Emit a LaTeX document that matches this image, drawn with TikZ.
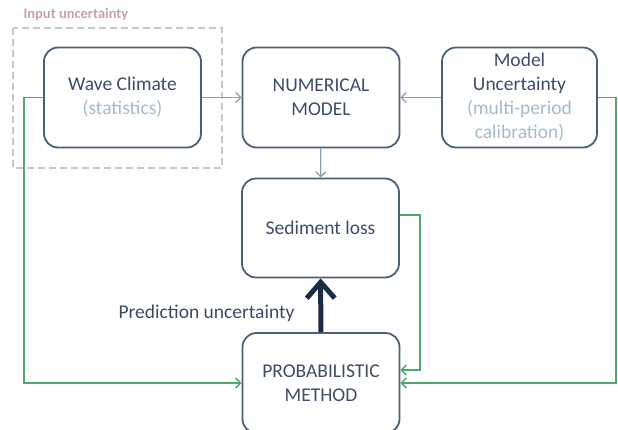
\documentclass[tikz,border=0pt]{standalone}
\usepackage{fontspec}
\setmainfont{Carlito}
\usepackage{tikz}
\usetikzlibrary{arrows.meta,positioning}
\definecolor{boxline}{HTML}{4D5D7A}
\definecolor{boxtext}{HTML}{3E4C68}
\definecolor{subtext}{HTML}{A3BCC8}
\definecolor{flowline}{HTML}{8C9DB5}
\definecolor{loopgreen}{HTML}{4FA86C}
\definecolor{inputlbl}{HTML}{C4A3AB}
\definecolor{dashgray}{HTML}{C8C8C8}
\definecolor{navy}{HTML}{1B2A47}
\begin{document}
\begin{tikzpicture}[x=1pt,y=-1pt,
  block/.style={draw=boxline,line width=1.8pt,rounded corners=14pt,minimum width=157pt,minimum height=100pt,align=center,text=boxtext,font=\fontsize{19.5}{24}\selectfont},
  flowarrow/.style={draw=flowline,line width=1.3pt,-{Straight Barb[length=5pt,width=10pt]}},
  greenarrow/.style={draw=loopgreen,line width=1.4pt,-{Straight Barb[length=5pt,width=10pt]}},
  bigarrow/.style={draw=navy,line width=5pt,-{Straight Barb[length=16pt,width=28pt]}}]
\useasboundingbox (0,0) rectangle (618,429);
\clip (0,0) rectangle (618,429);
% input uncertainty frame
\draw[dashgray,line width=2pt,dash pattern=on 7pt off 4pt] (13,28) rectangle (222,168);
\node[anchor=west,text=inputlbl,font=\fontsize{14.5}{16}\selectfont\bfseries] (inputlbl) at (20,15) {Input uncertainty};
% boxes
\node[block] (wave) at (122.5,97.5) {Wave Climate\\\textcolor{subtext}{(statistics)}};
\node[block] (num) at (321,97.5) {NUMERICAL\\MODEL};
\node[block,minimum width=155pt] (unc) at (519.5,97.5) {Model\\Uncertainty\\\textcolor{subtext}{(multi-period}\\\textcolor{subtext}{calibration)}};
\node[block,minimum height=99pt] (sed) at (320.5,228) {Sediment loss};
\node[block] (prob) at (321,383) {PROBABILISTIC\\METHOD};
\node[anchor=east,text=navy!85,font=\fontsize{19.5}{24}\selectfont] (predlbl) at (298,313) {Prediction uncertainty};
% connectors
\draw[flowarrow] (wave) -- (num);
\draw[flowarrow] (unc) -- (num);
\draw[flowarrow] (num) -- (sed);
\draw[bigarrow] (prob) -- (sed);
\draw[greenarrow] (wave.west) -- ++(-19,0) |- (prob.west);
\draw[greenarrow] (unc.east) -- ++(18,0) |- (prob.east);
\draw[greenarrow] ([yshift=13pt]sed.east) -- ++(20,0) |- ([yshift=13pt]prob.east);
\end{tikzpicture}
\end{document}
